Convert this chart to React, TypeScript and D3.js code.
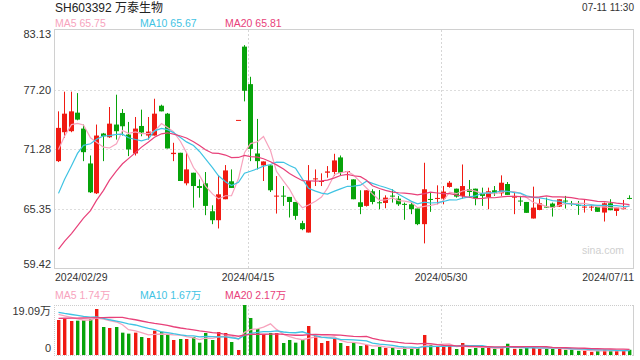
import React from "react";
import * as d3 from "d3";

const W = 640;
const H = 360;

const title = "SH603392 万泰生物";
const stamp = "07-11 11:30";

// daily OHLC, 2024-02-29 .. 2024-07-11 (90 trading days)
const opens = [
  70.12, 72.99, 73.09, 74.93, 73.35, 69.89, 66.93, 72.86, 72.49, 73.75,
  74.9, 72.76, 70.88, 73.61, 72.66, 72.66, 75.62, 74.83, 70.82, 70.95,
  67.92, 68.97, 67.65, 67.92, 65.15, 64.26, 66.34, 68.12, 74.21, 81.48,
  77.76, 70.88, 69.7, 69.7, 66.63, 66.7, 66.57, 66.07, 63.97, 63.04,
  68.35, 68.08, 68.97, 69.04, 70.49, 69.1, 68.31, 66.04, 65.68, 67.13,
  66.04, 65.97, 66.7, 66.4, 65.88, 65.84, 65.42, 63.87, 66.37, 66.4,
  66.4, 67.56, 67.39, 66.67, 67.33, 67.39, 66.93, 66.57, 67.23, 66.93,
  67.85, 66.5, 66.21, 66.07, 64.43, 65.28, 65.61, 65.91, 65.61, 66.21,
  65.97, 65.78, 65.55, 65.55, 65.58, 65.02, 65.94, 65.18, 65.38, 66.47,
];
const highs = [
  75.06, 77.01, 77.01, 76.87, 73.75, 70.68, 73.75, 72.92, 75.49, 76.71,
  75.29, 74.01, 74.5, 75.23, 74.5, 76.31, 75.72, 74.9, 71.94, 70.95,
  71.01, 68.97, 68.31, 69.04, 65.74, 68.74, 69.73, 69.3, 74.21, 81.63,
  78.49, 74.31, 70.09, 69.7, 68.64, 67.65, 66.57, 66.07, 64.2, 69.73,
  69.3, 68.91, 69.63, 70.85, 70.68, 69.14, 68.31, 67.23, 67.23, 67.33,
  67.26, 66.73, 67.33, 66.67, 66.01, 66.01, 65.42, 69.96, 67.06, 67.72,
  67.65, 68.15, 67.39, 69.79, 68.25, 67.39, 67.49, 67.49, 67.65, 68.71,
  68.05, 67.0, 66.67, 66.07, 67.59, 66.4, 66.5, 66.01, 66.34, 66.67,
  66.17, 66.17, 66.27, 65.74, 65.58, 66.01, 66.34, 65.51, 66.27, 66.73,
];
const lows = [
  70.03, 72.43, 72.99, 74.17, 70.12, 66.96, 66.86, 70.12, 72.43, 72.26,
  72.66, 70.62, 70.68, 72.59, 72.26, 72.66, 75.06, 71.38, 70.12, 68.15,
  67.72, 65.51, 66.5, 64.76, 63.87, 63.44, 66.34, 67.46, 74.21, 76.05,
  70.12, 69.3, 68.15, 67.06, 64.92, 65.68, 64.53, 64.3, 63.27, 63.04,
  67.65, 67.65, 68.48, 68.64, 68.64, 68.25, 66.34, 64.86, 65.61, 65.84,
  65.35, 65.45, 66.01, 65.68, 64.3, 64.86, 63.77, 61.96, 65.09, 65.84,
  65.84, 67.49, 66.5, 66.4, 66.5, 65.74, 65.68, 65.35, 66.67, 66.67,
  66.77, 64.86, 65.68, 64.99, 64.43, 65.25, 65.51, 64.62, 65.58, 65.42,
  65.68, 64.79, 65.02, 65.18, 65.09, 64.13, 65.25, 64.69, 65.35, 66.34,
];
const closes = [
  73.42, 74.83, 75.06, 74.24, 71.01, 67.03, 72.66, 72.59, 73.84, 73.09,
  73.58, 71.28, 73.35, 72.96, 73.05, 74.83, 75.06, 71.38, 70.95, 68.15,
  69.3, 67.65, 67.46, 65.68, 64.26, 66.83, 69.2, 67.46, 74.21, 77.1,
  71.34, 70.12, 70.09, 67.23, 66.7, 66.6, 66.07, 64.69, 63.37, 68.15,
  68.41, 68.15, 69.1, 70.19, 68.97, 69.14, 66.34, 65.58, 67.23, 66.07,
  65.97, 66.5, 66.63, 65.84, 65.81, 65.35, 63.87, 67.33, 66.3, 66.47,
  67.1, 67.98, 66.6, 67.65, 67.06, 66.44, 66.67, 67.13, 67.0, 67.98,
  66.77, 66.67, 66.14, 64.99, 65.51, 65.94, 65.55, 65.51, 66.34, 66.14,
  65.91, 65.71, 65.61, 65.61, 65.09, 65.94, 65.25, 65.51, 65.45, 66.37,
];
// volumes in 万手
const volumes = [
  13.36, 13.75, 12.98, 13.11, 13.24, 13.75, 17.56, 10.69, 10.31, 10.69,
  8.53, 8.15, 8.53, 6.87, 6.49, 9.29, 8.91, 8.02, 5.73, 6.11,
  6.11, 6.87, 4.71, 8.4, 5.73, 8.78, 8.4, 4.96, 1.91, 19.09,
  14.13, 9.93, 8.02, 8.4, 8.4, 4.58, 5.73, 4.71, 5.73, 11.07,
  7.25, 4.58, 5.35, 6.11, 4.58, 3.44, 4.58, 3.44, 3.82, 2.29,
  3.05, 2.67, 2.67, 1.91, 3.05, 2.29, 2.67, 7.64, 3.82, 3.44,
  3.05, 3.44, 2.29, 4.58, 2.29, 2.67, 2.67, 2.67, 2.29, 3.05,
  4.3, 2.35, 2.35, 2.75, 2.75, 2.35, 2.35, 2.75, 2.35, 1.95,
  1.95, 1.6, 1.6, 1.2, 1.6, 2.0, 1.6, 1.6, 1.65, 2.0,
];
// sessions before the visible window (only feed the moving averages)
const preCloses = [
  59.4, 59.6, 58.8, 55.8, 52.0, 52.6, 52.5, 53.6, 55.0, 59.3,
  61.0, 61.5, 62.0, 63.0, 65.4, 68.2, 69.3, 73.6, 71.8,
];
const preVolumes = [
  13.0, 12.5, 12.5, 12.5, 13.0, 16.0, 10.0, 9.5, 9.5, 8.5,
  18.0, 17.0, 16.5, 17.0, 17.0, 16.5, 16.0, 15.8, 15.8,
];

const priceTicks = [83.13, 77.2, 71.28, 65.35, 59.42];
const priceTickLabels = ["83.13", "77.20", "71.28", "65.35", "59.42"];
const volTickLabels = ["19.09万", "0"];
const volTickValues = [19.09, 0];
const dateIdx = [0, 30, 60, 89];
const dateLabels = ["2024/02/29", "2024/04/15", "2024/05/30", "2024/07/11"];
const maPeriods = [5, 10, 20];
const priceLegend = ["MA5 65.75", "MA10 65.67", "MA20 65.81"];
const volLegend = ["MA5 1.74万", "MA10 1.67万", "MA20 2.17万"];

const MA_COLORS = ["#f7a3bd", "#3fc3e3", "#e8417a"];
const UP = "#f01a12";
const DOWN = "#07a30a";
const FONT = "'Liberation Sans', Arial, 'Noto Sans CJK SC', sans-serif";

const L = 54;
const R = 634;
const PT = 30;
const PB = 269;
const VT = 305;
const VB = 355;

function movingAvg(pre: number[], vals: number[], k: number): number[] {
  const all = pre.concat(vals);
  const P = pre.length;
  return vals.map((_, i) => d3.mean(all.slice(P + i - k + 1, P + i + 1)) as number);
}

export default function App() {
  const x = d3.scaleLinear().domain([0, 90]).range([55.8, 633.6]);
  const y = d3.scaleLinear().domain([59.42, 83.13]).range([PB, PT]);
  const yv = d3.scaleLinear().domain([0, 19.09]).range([VB, VT]);
  const bx = (i: number) => Math.round(x(i));
  const cx = (i: number) => bx(i) + 2.5;

  const priceMAs = maPeriods.map((k) => movingAvg(preCloses, closes, k));
  const volMAs = maPeriods.map((k) => movingAvg(preVolumes, volumes, k));
  const pLine = d3.line<number>().x((_, i) => cx(i)).y((d) => y(d));
  const vLine = d3.line<number>().x((_, i) => cx(i)).y((d) => yv(d));

  const legendX = [55, 140, 225];

  return (
    <svg
      width={W}
      height={H}
      style={{ position: "fixed", left: 0, top: 0, background: "#fff" }}
      fontFamily={FONT}
    >
      <rect x={0} y={0} width={W} height={H} fill="#fff" />
      <text x={55} y={12} fontSize={12} fill="#222">{title}</text>
      <text x={634} y={11} fontSize={10} fill="#333" textAnchor="end">{stamp}</text>
      {priceLegend.map((t, k) => (
        <text key={t} x={legendX[k]} y={27.3} fontSize={10.5} fill={MA_COLORS[k]}>{t}</text>
      ))}

      {/* price panel grid */}
      {priceTicks.slice(1, 4).map((v) => (
        <line key={v} x1={L} x2={R} y1={Math.round(y(v)) + 0.5} y2={Math.round(y(v)) + 0.5}
          stroke="#ddd" strokeDasharray="2,2" />
      ))}
      {dateIdx.slice(1, 3).map((i) => (
        <line key={i} x1={bx(i) + 0.5} x2={bx(i) + 0.5} y1={PT} y2={PB} stroke="#d6d6d6" strokeDasharray="2,2" />
      ))}
      <rect x={L + 0.5} y={PT - 0.5} width={R - L - 1} height={PB - PT} fill="none" stroke="#d0d0d0" />
      {priceTicks.map((v, k) => {
        const yy = y(v) + 3.8 + (k === 0 ? 4.5 : 0) - (k === priceTicks.length - 1 ? 5 : 0);
        return (
          <text key={v} x={51} y={yy} fontSize={11} fill="#333" textAnchor="end">{priceTickLabels[k]}</text>
        );
      })}
      {dateIdx.map((i, k) => (
        <text key={i} x={k === 0 ? 55 : k === 3 ? 634 : bx(i)} y={281} fontSize={10.5} fill="#333"
          textAnchor={k === 0 ? "start" : k === 3 ? "end" : "middle"}>{dateLabels[k]}</text>
      ))}
      <text x={582} y={253.5} fontSize={10.5} fill="#cfcfcf">sina.com</text>

      {/* candles */}
      {closes.map((c, i) => {
        const o = opens[i];
        const up = c >= o;
        const col = up ? UP : DOWN;
        const top = y(Math.max(o, c));
        const h = Math.max(1, Math.abs(y(o) - y(c)));
        return (
          <g key={i}>
            <line x1={cx(i)} x2={cx(i)} y1={y(highs[i])} y2={y(lows[i])} stroke={col} strokeWidth={1} />
            <rect x={bx(i)} y={top} width={5} height={h} fill={col} />
          </g>
        );
      })}
      {priceMAs.map((m, k) => (
        <path key={k} d={pLine(m) || ""} fill="none" stroke={MA_COLORS[k]} strokeWidth={1.2} />
      ))}

      {/* volume panel */}
      {volLegend.map((t, k) => (
        <text key={t} x={legendX[k]} y={299} fontSize={10.5} fill={MA_COLORS[k]}>{t}</text>
      ))}
      <line x1={L} x2={R} y1={VT + 0.5} y2={VT + 0.5} stroke="#ccc" strokeDasharray="1,1" />
      <line x1={L} x2={R} y1={VB + 0.5} y2={VB + 0.5} stroke="#ccc" strokeDasharray="1,1" />
      <line x1={L + 0.5} x2={L + 0.5} y1={VT} y2={VB} stroke="#ccc" strokeDasharray="1,1" />
      <line x1={R - 0.5} x2={R - 0.5} y1={VT} y2={VB + 1} stroke="#d0d0d0" />
      {dateIdx.slice(1, 3).map((i) => (
        <line key={i} x1={bx(i) + 0.5} x2={bx(i) + 0.5} y1={VT} y2={VB} stroke="#d6d6d6" strokeDasharray="2,2" />
      ))}
      {volTickValues.map((v, k) => (
        <text key={k} x={51} y={yv(v) + 3.8 + (k === 0 ? 6 : -7)} fontSize={11} fill="#333" textAnchor="end">
          {volTickLabels[k]}
        </text>
      ))}
      {volumes.map((v, i) => {
        const up = closes[i] >= opens[i];
        return (
          <rect key={i} x={bx(i) + 1} y={yv(v)} width={3.4} height={VB - yv(v)} fill={up ? UP : DOWN} />
        );
      })}
      {volMAs.map((m, k) => (
        <path key={k} d={vLine(m) || ""} fill="none" stroke={MA_COLORS[k]} strokeWidth={1.3} />
      ))}
    </svg>
  );
}
